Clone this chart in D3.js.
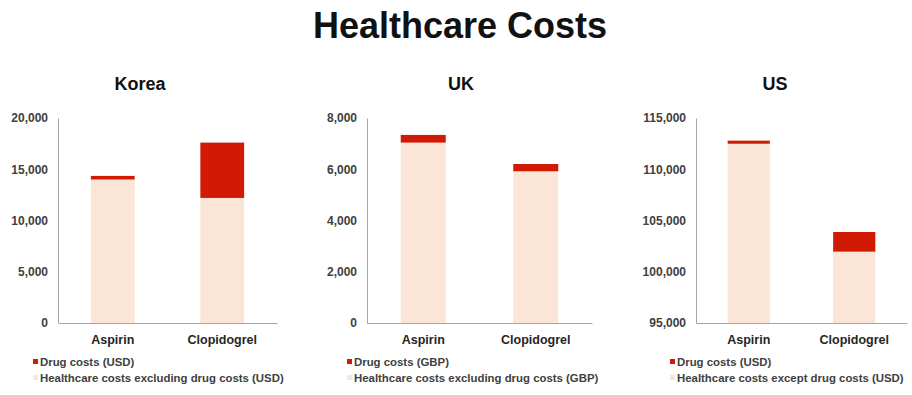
<!DOCTYPE html>
<html>
<head>
<meta charset="utf-8">
<script src="https://cdn.jsdelivr.net/npm/d3@7"></script>
<style>
  body { margin: 0; background: #fff; }
  text { font-family: "Liberation Sans", Arial, sans-serif; }
</style>
</head>
<body>
<div id="chart"></div>
<script>
// categories and values
var drugs = ["Aspirin", "Clopidogrel"];
var countries = ["Korea", "UK", "US"];

var koreaOther = [14000, 12200];
var koreaDrug = [350, 5400];
var ukOther = [7040, 5920];
var ukDrug = [300, 285];
var usOther = [112490, 101960];
var usDrug = [300, 1920];

var koreaTicks = [0, 5000, 10000, 15000, 20000];
var ukTicks = [0, 2000, 4000, 6000, 8000];
var usTicks = [95000, 100000, 105000, 110000, 115000];

var legendDrug = ["Drug costs (USD)", "Drug costs (GBP)", "Drug costs (USD)"];
var legendOther = ["Healthcare costs excluding drug costs (USD)",
                   "Healthcare costs excluding drug costs (GBP)",
                   "Healthcare costs except drug costs (USD)"];

function init() {
    var w = 912, h = 395;
    var red = "#d01a04", pink = "#fbe5d6";

    var svg = d3.select("#chart").append("svg")
        .attr("width", w)
        .attr("height", h);

    svg.append("text")
        .attr("x", 460).attr("y", 38)
        .attr("text-anchor", "middle")
        .attr("font-size", "36px")
        .attr("font-weight", "bold")
        .attr("fill", "#111")
        .text("Healthcare Costs");

    // layout of each panel (plot area)
    var panels = [
        {left: 58, right: 277, title: 140, other: koreaOther, drug: koreaDrug, ticks: koreaTicks, legX: 33},
        {left: 367, right: 592, title: 461, other: ukOther, drug: ukDrug, ticks: ukTicks, legX: 347},
        {left: 696, right: 907, title: 775, other: usOther, drug: usDrug, ticks: usTicks, legX: 670}
    ];
    var top = 118, bottom = 323;

    panels.forEach(function(p, i) {
        var g = svg.append("g");

        g.append("text")
            .attr("x", p.title).attr("y", 90)
            .attr("text-anchor", "middle")
            .attr("font-size", "18px")
            .attr("font-weight", "bold")
            .attr("fill", "#111")
            .text(countries[i]);

        var xScale = d3.scaleBand()
            .domain(drugs)
            .range([p.left, p.right])
            .paddingInner(0.6)
            .paddingOuter(0.3);

        var yScale = d3.scaleLinear()
            .domain([p.ticks[0], p.ticks[p.ticks.length - 1]])
            .range([bottom, top]);

        // stacked bars: healthcare costs at bottom, drug costs on top
        g.selectAll(".other")
            .data(drugs)
            .enter().append("rect")
            .attr("x", d => xScale(d))
            .attr("width", xScale.bandwidth())
            .attr("y", (d, j) => yScale(p.other[j]))
            .attr("height", (d, j) => yScale(p.ticks[0]) - yScale(p.other[j]))
            .attr("fill", pink);

        g.selectAll(".drug")
            .data(drugs)
            .enter().append("rect")
            .attr("x", d => xScale(d))
            .attr("width", xScale.bandwidth())
            .attr("y", (d, j) => yScale(p.other[j] + p.drug[j]))
            .attr("height", (d, j) => yScale(p.other[j]) - yScale(p.other[j] + p.drug[j]))
            .attr("fill", red);

        var yAxis = d3.axisLeft(yScale)
            .tickValues(p.ticks)
            .tickSize(0)
            .tickPadding(10)
            .tickFormat(d3.format(","));

        var ya = g.append("g")
            .attr("transform", "translate(" + p.left + ",0)")
            .call(yAxis);
        ya.select(".domain").attr("stroke", "#a6a6a6");
        ya.selectAll("text")
            .attr("font-size", "12px")
            .attr("font-weight", "bold")
            .attr("fill", "#404040")
            .attr("font-family", "Liberation Sans, Arial, sans-serif");

        var xAxis = d3.axisBottom(xScale).tickSize(0).tickPadding(12);
        var xa = g.append("g")
            .attr("transform", "translate(0," + bottom + ")")
            .call(xAxis);
        xa.select(".domain").attr("stroke", "#a6a6a6");
        xa.selectAll("text")
            .attr("font-size", "12.5px")
            .attr("font-weight", "bold")
            .attr("fill", "#262626")
            .attr("font-family", "Liberation Sans, Arial, sans-serif");

        // legend
        var leg = [
            {label: legendDrug[i], color: red, y: 362},
            {label: legendOther[i], color: pink, y: 378}
        ];
        leg.forEach(function(l) {
            g.append("rect")
                .attr("x", p.legX).attr("y", l.y - 3)
                .attr("width", 5).attr("height", 5)
                .attr("fill", l.color);
            g.append("text")
                .attr("x", p.legX + 7).attr("y", l.y + 4)
                .attr("font-size", "11.4px")
                .attr("font-weight", "bold")
                .attr("fill", "#404040")
                .text(l.label);
        });
    });
}

window.onload = init;
</script>
</body>
</html>
